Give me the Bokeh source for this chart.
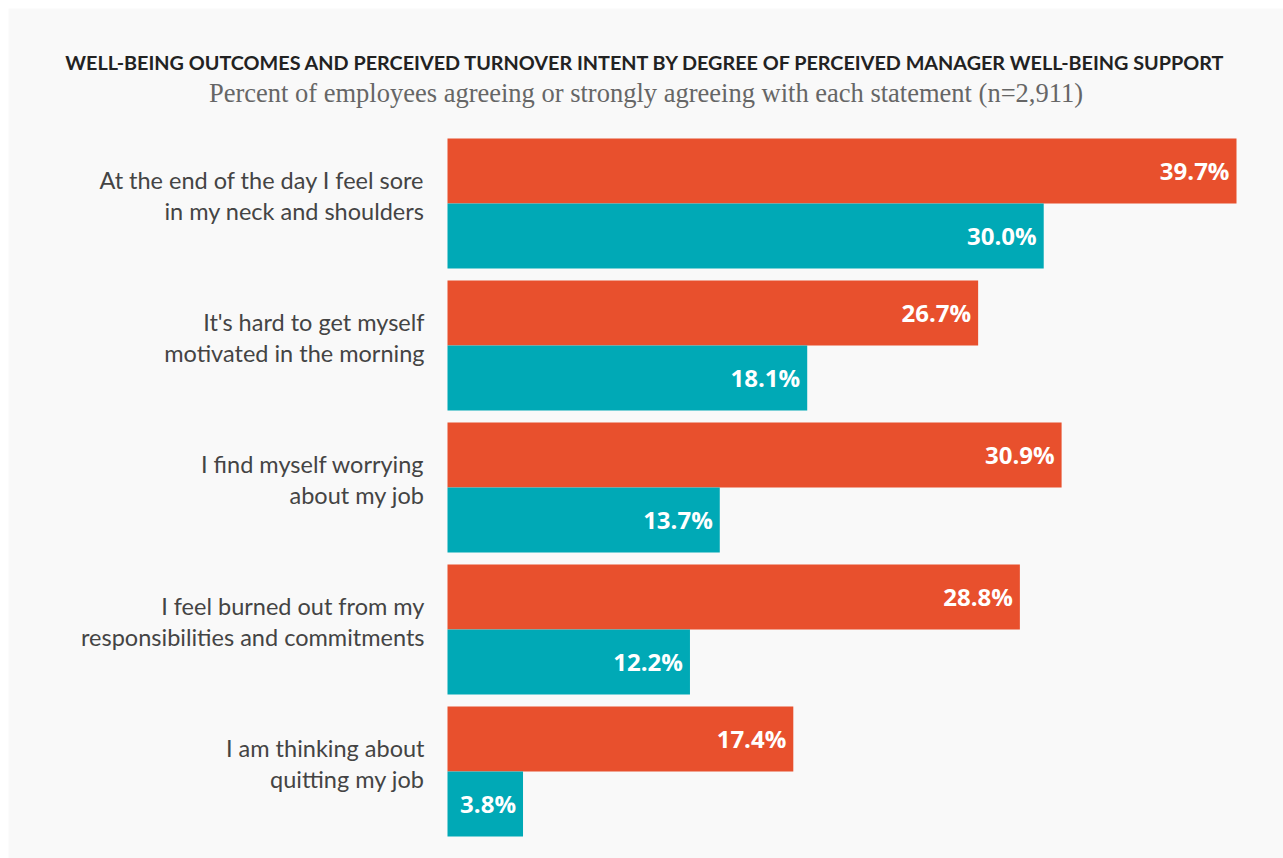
from bokeh.plotting import figure
from bokeh.models import ColumnDataSource, Range1d, LabelSet, Label
from bokeh.core.properties import value
from bokeh.embed import file_html
from bokeh.resources import INLINE

# ---- data ----
categories = [
    "At the end of the day I feel sore\nin my neck and shoulders",
    "It's hard to get myself\nmotivated in the morning",
    "I find myself worrying\nabout my job",
    "I feel burned out from my\nresponsibilities and commitments",
    "I am thinking about\nquitting my job",
]
low_support = [39.7, 26.7, 30.9, 28.8, 17.4]
high_support = [30.0, 18.1, 13.7, 12.2, 3.8]

title_text = "WELL-BEING OUTCOMES AND PERCEIVED TURNOVER INTENT BY DEGREE OF PERCEIVED MANAGER WELL-BEING SUPPORT"
subtitle_text = "Percent of employees agreeing or strongly agreeing with each statement (n=2,911)"

ORANGE = "#e8502d"
TEAL = "#00a9b6"
PANEL = "#f9f9f9"

# ---- layout geometry (pixels) ----
W, H = 1275, 850          # figure size (page offset 8,8 by margin)
FL, FR, FT, FB = 439, 1228, 130, 828   # bar area edges inside figure
PITCH, BAR = 142, 65
FRAME_H = FB - FT
XMAX = max(low_support)
xscale = XMAX / (FR - FL)

n = len(categories)
tops = [FRAME_H - PITCH * i for i in range(n)]
y_low = [t - BAR / 2 for t in tops]
y_high = [t - BAR * 1.5 for t in tops]
y_mid = [t - BAR for t in tops]
line1 = [c.split("\n")[0] for c in categories]
line2 = [c.split("\n")[1] for c in categories]

src_low = ColumnDataSource(dict(y=y_low, v=low_support,
                                lab=[f"{v:.1f}%" for v in low_support]))
src_high = ColumnDataSource(dict(y=y_high, v=high_support,
                                 lab=[f"{v:.1f}%" for v in high_support]))
src_l1 = ColumnDataSource(dict(y=[m + 24 for m in y_mid], x=[0] * n, t=line1))
src_l2 = ColumnDataSource(dict(y=[m - 7 for m in y_mid], x=[0] * n, t=line2))

p = figure(width=W, height=H, output_backend="svg", toolbar_location=None,
           x_range=Range1d(-FL * xscale, XMAX + (W - FR) * xscale),
           y_range=Range1d(-(H - FB), FRAME_H + FT),
           min_border=0)
p.margin = (8, 0, 0, 8)
p.background_fill_color = PANEL
p.border_fill_color = PANEL
p.outline_line_color = None
p.xgrid.visible = False
p.ygrid.visible = False
p.xaxis.visible = False
p.yaxis.visible = False

p.hbar(y="y", left=0, right="v", height=BAR, source=src_low,
       fill_color=ORANGE, line_color=None)
p.hbar(y="y", left=0, right="v", height=BAR, source=src_high,
       fill_color=TEAL, line_color=None)

for src in (src_low, src_high):
    p.add_layout(LabelSet(x="v", y="y", text="lab", source=src,
                          x_offset=-7, y_offset=1, text_align="right",
                          text_baseline="middle",
                          text_color="white", text_font=value("Open Sans"),
                          text_font_style="bold", text_font_size="24px"))

for src in (src_l1, src_l2):
    p.add_layout(LabelSet(x="x", y="y", text="t", source=src,
                          x_offset=-23, text_align="right", text_baseline="middle",
                          text_color="#444444", text_font=value("Lato"),
                          text_font_size="23.5px"))

cx = ((1283 + 8) / 2 - 8 - FL) * xscale

p.add_layout(Label(x=cx, y=FB - (61 - 8), text=title_text, text_align="center",
                   text_baseline="middle", text_font="Lato",
                   text_font_style="bold", text_font_size="19.8px",
                   text_color="#222222"))
p.add_layout(Label(x=cx, y=FB - (92 - 8), text=subtitle_text, text_align="center",
                   text_baseline="middle", text_font="Liberation Serif",
                   text_font_size="26.5px", text_color="#666666"))

open("out.html", "w").write(file_html(p, INLINE))
